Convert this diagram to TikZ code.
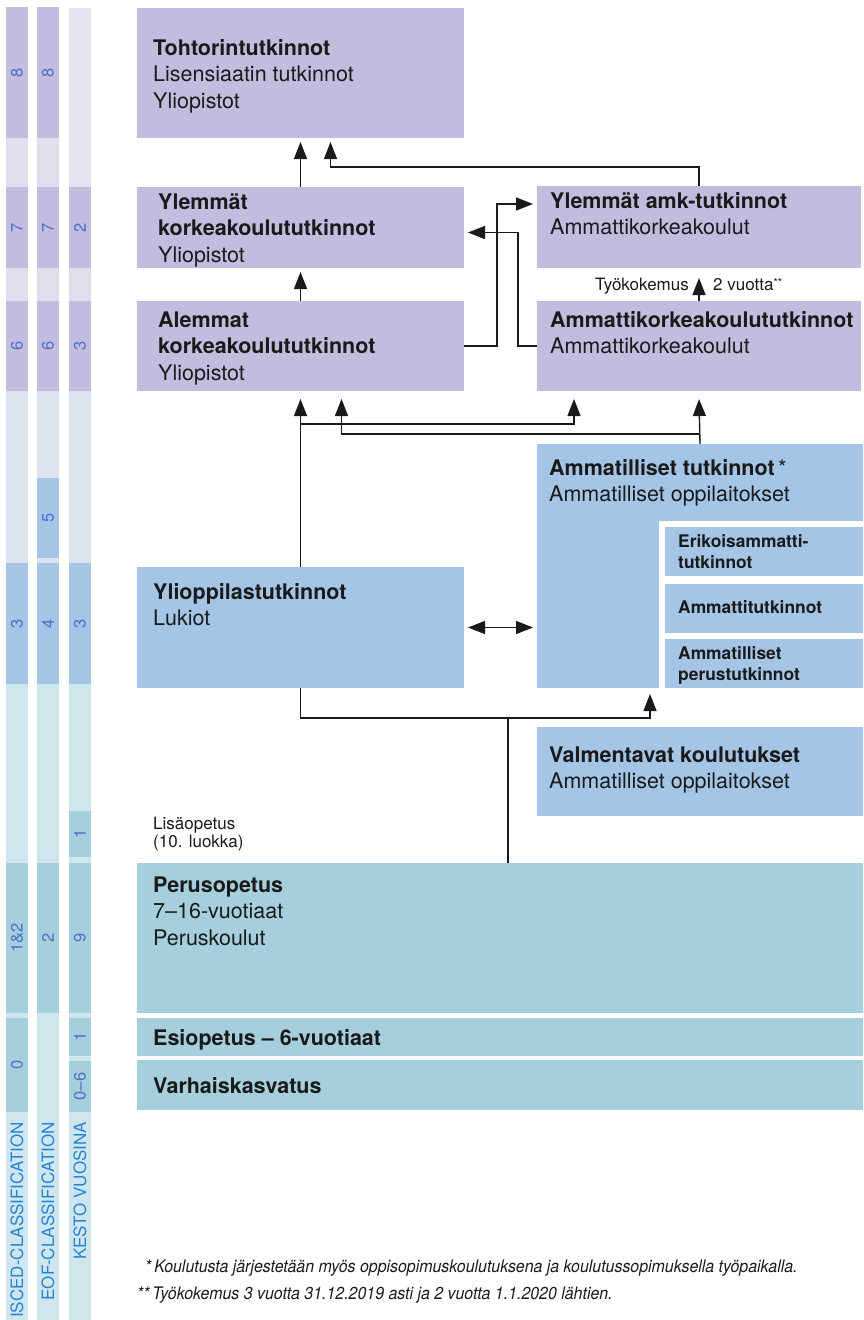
\documentclass[tikz,border=0pt]{standalone}
\usepackage{fontspec}
\setmainfont{TeX Gyre Heros}
\newfontfamily\kapea[FakeStretch=0.92]{TeX Gyre Heros}
\usetikzlibrary{arrows.meta,positioning,calc}
\definecolor{lila}{HTML}{C4BCDF}
\definecolor{lilavaalea}{HTML}{E0DEEE}
\definecolor{lilahaalea}{HTML}{E4E2F0}
\definecolor{harmaa}{HTML}{DCE3EE}
\definecolor{sini}{HTML}{A5C5E7}
\definecolor{syaani}{HTML}{CFE6EF}
\definecolor{turkoosi}{HTML}{A6CFDD}
\definecolor{numero}{HTML}{4A6FC4}
\definecolor{otsikko}{HTML}{2585D5}
\definecolor{teksti}{HTML}{1A1A1A}
\tikzset{
  laatikko/.style={anchor=north west, inner sep=0pt, outer sep=0pt},
  teksti/.style={anchor=base west, inner sep=0pt, align=left, text=teksti, font=\fontsize{21.5}{26.5}\selectfont},
  alateksti/.style={anchor=base west, inner sep=0pt, align=left, text=teksti, font=\fontsize{17.4}{21}\selectfont\bfseries},
  pieni/.style={inner sep=0pt, align=left, text=teksti, font=\fontsize{17}{18}\selectfont},
  alaviite/.style={anchor=base west, inner sep=0pt, text=teksti, font=\kapea\itshape\fontsize{17.3}{18}\selectfont},
  nro/.style={rotate=90, inner sep=0pt, text=numero, font=\fontsize{16.5}{16.5}\selectfont},
  sarake/.style={rotate=90, anchor=east, inner sep=0pt, text=otsikko, font=\fontsize{17}{17}\selectfont},
  viiva/.style={line width=1.4pt, draw=teksti},
  nuoli/.style={viiva, -{Triangle[length=17pt,width=13pt]}},
  nuoli2/.style={viiva, {Triangle[length=17pt,width=13pt]}-{Triangle[length=17pt,width=13pt]}}
}
\begin{document}
\begin{tikzpicture}[x=1pt,y=1pt]
    \useasboundingbox (0,0) rectangle (864,-1320);
    \fill[syaani] (6,-684) rectangle (28,-1320);
    \fill[harmaa] (6,-391) rectangle (28,-563);
    \fill[lilavaalea] (6,-7) rectangle (28,-391);
    \fill[lila] (6,-7) rectangle (28,-138);
    \fill[lila] (6,-187) rectangle (28,-268);
    \fill[lila] (6,-301) rectangle (28,-391);
    \fill[sini] (6,-563) rectangle (28,-684);
    \fill[turkoosi] (6,-863) rectangle (28,-1013);
    \fill[turkoosi] (6,-1018) rectangle (28,-1112);
    \fill[syaani] (37,-684) rectangle (59,-1320);
    \fill[harmaa] (37,-391) rectangle (59,-563);
    \fill[lilavaalea] (37,-7) rectangle (59,-391);
    \fill[lila] (37,-7) rectangle (59,-138);
    \fill[lila] (37,-187) rectangle (59,-268);
    \fill[lila] (37,-301) rectangle (59,-391);
    \fill[sini] (37,-478) rectangle (59,-558);
    \fill[sini] (37,-563) rectangle (59,-684);
    \fill[turkoosi] (37,-863) rectangle (59,-1013);
    \fill[syaani] (69,-684) rectangle (91,-1320);
    \fill[harmaa] (69,-391) rectangle (91,-563);
    \fill[lilavaalea] (69,-187) rectangle (91,-391);
    \fill[lilahaalea] (69,-8) rectangle (91,-187);
    \fill[lila] (69,-187) rectangle (91,-268);
    \fill[lila] (69,-301) rectangle (91,-391);
    \fill[sini] (69,-563) rectangle (91,-684);
    \fill[turkoosi] (69,-811) rectangle (91,-857);
    \fill[turkoosi] (69,-863) rectangle (91,-1013);
    \fill[turkoosi] (69,-1018) rectangle (91,-1056);
    \fill[turkoosi] (69,-1061) rectangle (91,-1112);
    \node[nro] (isced8) at (17,-72.5) {8};
    \node[nro] (isced7) at (17,-227.5) {7};
    \node[nro] (isced6) at (17,-346) {6};
    \node[nro] (isced3) at (17,-623.5) {3};
    \node[nro] (isced12) at (17,-938) {1\&2};
    \node[nro] (isced0) at (17,-1065) {0};
    \node[nro] (eof8) at (48,-72.5) {8};
    \node[nro] (eof7) at (48,-227.5) {7};
    \node[nro] (eof6) at (48,-346) {6};
    \node[nro] (eof5) at (48,-518) {5};
    \node[nro] (eof4) at (48,-623.5) {4};
    \node[nro] (eof2) at (48,-938) {2};
    \node[nro] (kesto2) at (80,-227.5) {2};
    \node[nro] (kesto3a) at (80,-346) {3};
    \node[nro] (kesto3b) at (80,-623.5) {3};
    \node[nro] (kesto1a) at (80,-834) {1};
    \node[nro] (kesto9) at (80,-938) {9};
    \node[nro] (kesto1b) at (80,-1037) {1};
    \node[nro] (kesto06) at (80,-1086.5) {0--6};
    \node[sarake] (isced) at (17,-1122) {ISCED-CLASSIFICATION};
    \node[sarake] (eof) at (48,-1122) {EOF-CLASSIFICATION};
    \node[sarake] (kesto) at (80,-1122) {KESTO VUOSINA};
    \node[laatikko, fill=lila, minimum width=327, minimum height=130] (tohtori) at (137,-8) {};
    \node[laatikko, fill=lila, minimum width=327, minimum height=81] (ylemmat) at (137,-187) {};
    \node[laatikko, fill=lila, minimum width=324, minimum height=82] (ylamk) at (537,-186) {};
    \node[laatikko, fill=lila, minimum width=327, minimum height=90] (alemmat) at (137,-301) {};
    \node[laatikko, fill=lila, minimum width=324, minimum height=90] (amk) at (537,-301) {};
    \node[laatikko, fill=sini, minimum width=326, minimum height=77] (ammat) at (537,-444) {};
    \node[laatikko, fill=sini, minimum width=122, minimum height=244] (ammatv) at (537,-444) {};
    \node[laatikko, fill=sini, minimum width=198, minimum height=49] (erik) at (665,-527) {};
    \node[laatikko, fill=sini, minimum width=198, minimum height=49] (ammtut) at (665,-584) {};
    \node[laatikko, fill=sini, minimum width=198, minimum height=49] (perustut) at (665,-639) {};
    \node[laatikko, fill=sini, minimum width=327, minimum height=121] (yo) at (137,-567) {};
    \node[laatikko, fill=sini, minimum width=326, minimum height=89] (valm) at (537,-727) {};
    \node[laatikko, fill=turkoosi, minimum width=726, minimum height=150] (perus) at (137,-863) {};
    \node[laatikko, fill=turkoosi, minimum width=726, minimum height=38] (esi) at (137,-1018) {};
    \node[laatikko, fill=turkoosi, minimum width=726, minimum height=50] (varhais) at (137,-1060) {};
    \node[teksti] (tohtori-t) at ([shift={(16,-100)}]tohtori.north west) {\textbf{Tohtorintutkinnot}\\Lisensiaatin tutkinnot\\Yliopistot};
    \node[teksti] (ylemmat-t) at ([shift={(21,-75)}]ylemmat.north west) {\textbf{Ylemmät}\\\textbf{korkeakoulututkinnot}\\Yliopistot};
    \node[teksti] (ylamk-t) at ([shift={(13,-48.5)}]ylamk.north west) {\textbf{Ylemmät amk-tutkinnot}\\Ammattikorkeakoulut};
    \node[teksti] (alemmat-t) at ([shift={(21,-79)}]alemmat.north west) {\textbf{Alemmat}\\\textbf{korkeakoulututkinnot}\\Yliopistot};
    \node[teksti] (amk-t) at ([shift={(13,-52.5)}]amk.north west) {\textbf{Ammattikorkeakoulututkinnot}\\Ammattikorkeakoulut};
    \node[teksti] (ammat-t) at ([shift={(12,-57.5)}]ammat.north west) {\textbf{Ammatilliset tutkinnot}\,*\\Ammatilliset oppilaitokset};
    \node[alateksti] (erik-t) at ([shift={(13,-41)}]erik.north west) {Erikoisammatti-\\tutkinnot};
    \node[alateksti] (ammtut-t) at ([shift={(13,-29)}]ammtut.north west) {Ammattitutkinnot};
    \node[alateksti] (perustut-t) at ([shift={(13,-41)}]perustut.north west) {Ammatilliset\\perustutkinnot};
    \node[teksti] (yo-t) at ([shift={(16,-58.5)}]yo.north west) {\textbf{Ylioppilastutkinnot}\\Lukiot};
    \node[teksti] (valm-t) at ([shift={(12,-61.5)}]valm.north west) {\textbf{Valmentavat koulutukset}\\Ammatilliset oppilaitokset};
    \node[teksti] (perus-t) at ([shift={(16,-82)}]perus.north west) {\textbf{Perusopetus}\\7--16-vuotiaat\\Peruskoulut};
    \node[teksti] (esi-t) at ([shift={(16,-27)}]esi.north west) {\textbf{Esiopetus -- 6-vuotiaat}};
    \node[teksti] (varhais-t) at ([shift={(16,-33)}]varhais.north west) {\textbf{Varhaiskasvatus}};
    \node[pieni, anchor=base west] (lisa) at ([shift={(16,16)}]perus.north west) {Lisäopetus\\(10. luokka)};
    \node[pieni, anchor=base east] (tyo) at ([shift={(-10,-22)}]ylamk.south) {Työkokemus};
    \node[pieni, anchor=base west] (vuotta) at ([shift={(14,-22)}]ylamk.south) {2 vuotta\raisebox{4pt}{\fontsize{11}{11}\selectfont**}};
    \draw[nuoli] (ylemmat.north) -- ([yshift=-4]tohtori.south);
    \draw[nuoli] (ylamk.north) -- ++(0,19) -| ([shift={(30,-4)}]tohtori.south);
    \draw[nuoli] (alemmat.north) -- ([yshift=-4]ylemmat.south);
    \draw[nuoli] (amk.north) -- ([yshift=-10]ylamk.south);
    \draw[nuoli] (alemmat.east) -- ++(33,0) |- ([shift={(-4,23)}]ylamk.west);
    \draw[nuoli] (amk.west) -- ++(-19,0) |- ([shift={(4,-5)}]ylemmat.east);
    \draw[nuoli] (yo.north) -- ([yshift=-8]alemmat.south);
    \draw[nuoli] ([yshift=143]yo.north) -| ([shift={(37,-8)}]amk.south west);
    \draw[nuoli] (ammat.north) -- ([yshift=-8]amk.south);
    \draw[nuoli] ([yshift=10]ammat.north) -| ([shift={(41,-8)}]alemmat.south);
    \draw[nuoli2] ([xshift=4]yo.east) -- ([xshift=-4]yo.east -| ammatv.west);
    \draw[viiva] ([xshift=8]perus.north) -- ++(0,145);
    \draw[nuoli] (yo.south) -- ++(0,-30) -| ([shift={(52,-6)}]ammatv.south);
    \node[alaviite] (viite1) at (145,-1272) {*\,Koulutusta järjestetään myös oppisopimuskoulutuksena ja koulutussopimuksella työpaikalla.};
    \node[alaviite] (viite2) at (137,-1299) {**\,Työkokemus 3 vuotta 31.12.2019 asti ja 2 vuotta 1.1.2020 lähtien.};
\end{tikzpicture}
\end{document}
